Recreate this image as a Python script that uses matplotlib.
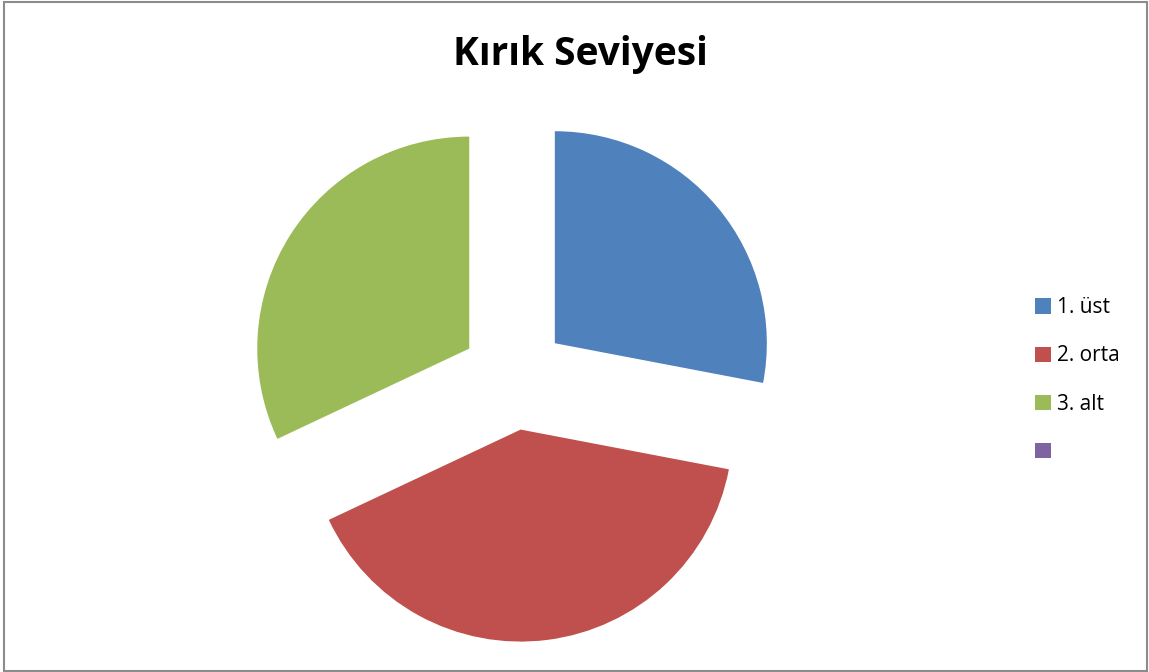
import matplotlib.pyplot as plt
from matplotlib.patches import Rectangle, Patch

categories = ["1. üst", "2. orta", "3. alt", ""]
values = [28, 40, 32]
colors = ["#4F81BD", "#C0504D", "#9BBB59", "#8064A2"]
title = "Kırık Seviyesi"

W, H = 1149, 672
fig = plt.figure(figsize=(W / 100, H / 100), dpi=100)

# outer chart frame
fig.patches.append(Rectangle((3.5 / W, 1.5 / H), (W - 6) / W, (H - 3) / H,
                             transform=fig.transFigure, fill=False,
                             edgecolor="#8c8c8c", linewidth=1.5))

# pie axes: center (514, 377) px, radius 212 px
r = 212
cx, cy = 514, H - 377
ax = fig.add_axes([(cx - 1.5 * r) / W, (cy - 1.5 * r) / H, 3 * r / W, 3 * r / H])
ax.pie(values, colors=colors[:3], startangle=90, counterclock=False,
       explode=[0.25] * 3, radius=1, center=(0, 0),
       wedgeprops=dict(linewidth=0))
ax.set_xlim(-1.5, 1.5)
ax.set_ylim(-1.5, 1.5)
ax.axis("off")

fig.text(580 / W, 1 - 54 / H, title, ha="center", va="center",
         fontsize=28, fontweight="bold", family="Open Sans")

handles = [Patch(facecolor=c, edgecolor="none") for c in colors]
fig.legend(handles, categories, loc="upper left",
           bbox_to_anchor=(1027 / W, 1 - 289 / H), frameon=False,
           prop=dict(family="Open Sans", size=15),
           handlelength=0.75, handleheight=0.75, handletextpad=0.3,
           labelspacing=1.3, borderaxespad=0)

fig.savefig("out.png", dpi=100)
